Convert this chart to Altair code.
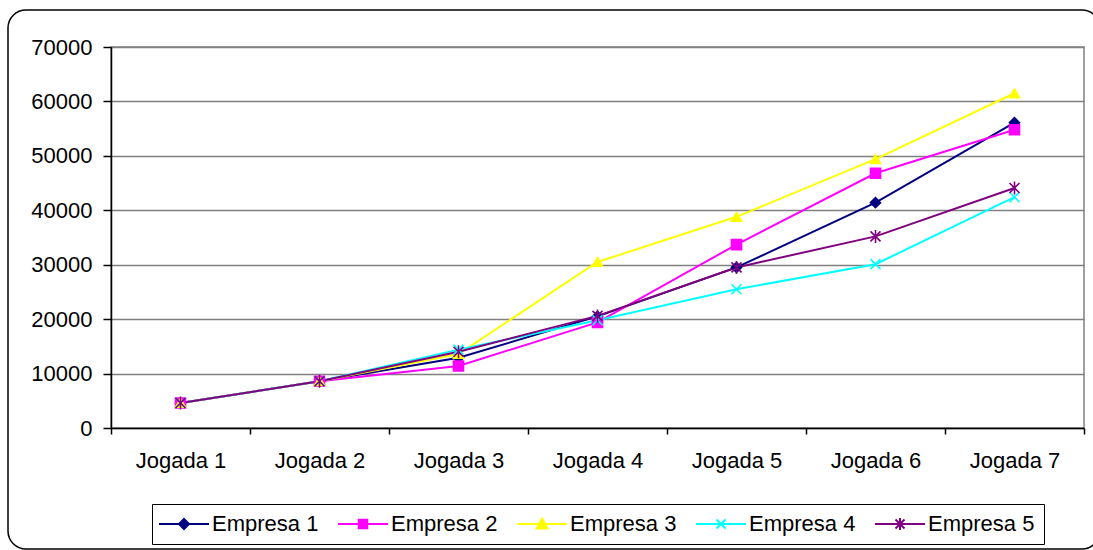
import altair as alt
import pandas as pd

categories = ["Jogada 1", "Jogada 2", "Jogada 3", "Jogada 4", "Jogada 5", "Jogada 6", "Jogada 7"]
series_names = ["Empresa 1", "Empresa 2", "Empresa 3", "Empresa 4", "Empresa 5"]
empresa1 = [4600, 8600, 12900, 20500, 29500, 41400, 56100]
empresa2 = [4600, 8600, 11400, 19400, 33700, 46800, 54800]
empresa3 = [4600, 8600, 13600, 30500, 38800, 49400, 61500]
empresa4 = [4600, 8600, 14400, 19800, 25500, 30100, 42400]
empresa5 = [4600, 8600, 14000, 20600, 29500, 35200, 44100]
y_ticks = [0, 10000, 20000, 30000, 40000, 50000, 60000, 70000]

colors = ["#000080", "#FF00FF", "#FFFF00", "#00FFFF", "#800080"]
X_PATH = "M-1,-1L1,1M-1,1L1,-1"
AST_PATH = "M-1,-1L1,1M-1,1L1,-1M0,-1.3L0,1.3"
shapes = ["diamond", "square", "triangle-up", X_PATH, AST_PATH]

# legend symbols: a line with the marker in its middle (unit = 5 px at size 100)
legend_paths = [
    "M-5,0L5,0M0,-1L1,0L0,1L-1,0Z",
    "M-5,0L5,0M-0.85,-0.85L0.85,-0.85L0.85,0.85L-0.85,0.85Z",
    "M-5,0L5,0M0,-1.1L1.1,0.9L-1.1,0.9Z",
    "M-5,0L5,0M-0.9,-0.9L0.9,0.9M-0.9,0.9L0.9,-0.9",
    "M-5,0L5,0M-0.9,-0.9L0.9,0.9M-0.9,0.9L0.9,-0.9M0,-1.2L0,1.2",
]

rows = []
for name, vals in zip(series_names, [empresa1, empresa2, empresa3, empresa4, empresa5]):
    for c, v in zip(categories, vals):
        rows.append({"Jogada": c, "Empresa": name, "Valor": v})
df = pd.DataFrame(rows)

FONT = "Liberation Sans"
FS = 22

x_enc = alt.X(
    "Jogada:N",
    sort=categories,
    scale=alt.Scale(type="band", domain=categories, paddingInner=0, paddingOuter=0),
    bandPosition=0.5,
    axis=alt.Axis(
        title=None, tickBand="extent", labelAngle=0, labelFont=FONT, labelFontSize=FS,
        labelColor="black", domainColor="black", tickColor="black", tickSize=6,
        labelPadding=16, grid=False, domainWidth=1.5, tickWidth=1.5,
    ),
)
y_enc = alt.Y(
    "Valor:Q",
    scale=alt.Scale(domain=[0, 70000], nice=False),
    axis=alt.Axis(
        title=None, values=y_ticks, format="d", labelFont=FONT, labelFontSize=FS,
        labelColor="black", domainColor="black", tickColor="black", tickSize=8,
        labelPadding=11, gridColor="#808080", gridWidth=1.5, domainWidth=1.5, tickWidth=1.5,
    ),
)


def cscale():
    return alt.Scale(domain=series_names, range=colors)


lines = alt.Chart(df).mark_line(strokeWidth=2).encode(
    x=x_enc,
    y=y_enc,
    color=alt.Color("Empresa:N", scale=cscale(), legend=None),
)

points = alt.Chart(df).mark_point(filled=False, strokeWidth=1.6, opacity=1, size=100).encode(
    x=x_enc,
    y=y_enc,
    color=alt.Color("Empresa:N", scale=cscale(), legend=None),
    fill=alt.Fill("Empresa:N", scale=cscale(), legend=None),
    shape=alt.Shape("Empresa:N", scale=alt.Scale(domain=series_names, range=shapes), legend=None),
)

leg = alt.Legend(
    title=None, orient="none", legendX=41, legendY=457, direction="horizontal",
    columns=5, labelFont=FONT, labelFontSize=FS, labelColor="black",
    symbolSize=100, symbolStrokeWidth=2, symbolOpacity=1, symbolOffset=12,
    labelOffset=17, columnPadding=15,
    strokeColor="black", padding=9, fillColor="white",
)

legend_layer = alt.Chart(df).transform_filter(alt.datum.Valor < 0).mark_point(
    filled=True, strokeWidth=2
).encode(
    x=x_enc,
    y=y_enc,
    color=alt.Color("Empresa:N", scale=cscale(), legend=leg),
    stroke=alt.Stroke("Empresa:N", scale=cscale(), legend=leg),
    shape=alt.Shape("Empresa:N", scale=alt.Scale(domain=series_names, range=legend_paths), legend=leg),
)

frame = alt.Chart(alt.Data(values=[{"a": 1}])).mark_rect(
    fill=None, stroke="black", strokeWidth=1.5, cornerRadius=18
).encode(
    x=alt.value(-103), x2=alt.value(989), y=alt.value(-37), y2=alt.value(502)
)

chart = alt.layer(frame, lines, points, legend_layer).resolve_scale(
    shape="independent", color="independent", stroke="independent", fill="independent"
).properties(
    width=973, height=381,
    autosize=alt.AutoSizeParams(type="none"),
    padding={"left": 111, "top": 47, "right": 9, "bottom": 122},
    background="white",
).configure_view(stroke="#808080", strokeWidth=1.5)

chart.save("out.html", embed_options={"renderer": "svg", "actions": False})
